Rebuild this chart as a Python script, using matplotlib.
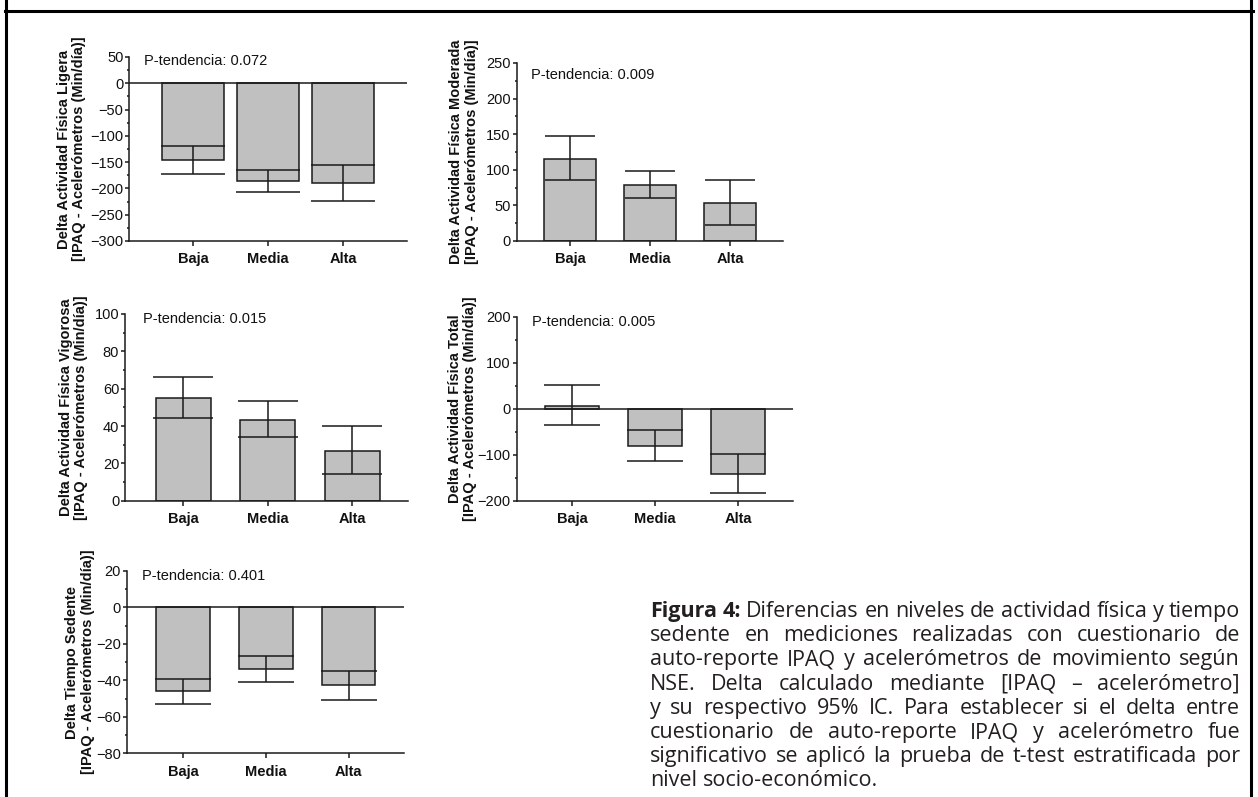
import matplotlib
matplotlib.use('Agg')
import matplotlib.pyplot as plt
from matplotlib.lines import Line2D
from matplotlib.ticker import MultipleLocator

W, H, DPI = 1258, 797, 100

# ---------------- data ----------------
categories = ['Baja', 'Media', 'Alta']

ligera_mean = [-146, -186, -189]
ligera_low = [-173, -207, -223]
ligera_high = [-120, -164, -156]

moderada_mean = [115, 78, 54]
moderada_low = [86, 60, 23]
moderada_high = [147, 98, 86]

vigorosa_mean = [55, 43, 26.5]
vigorosa_low = [44.5, 34, 14.5]
vigorosa_high = [66, 53.5, 40]

total_mean = [6, -80, -141]
total_low = [-36, -114, -184]
total_high = [52, -47, -99]

sedente_mean = [-46, -33.5, -42.5]
sedente_low = [-53, -41, -51]
sedente_high = [-39.5, -26.5, -35]

p_tendencia = ['0.072', '0.009', '0.015', '0.005', '0.401']

ylabels = [
    'Delta Actividad Física Ligera\n[IPAQ - Acelerómetros (Min/día)]',
    'Delta Actividad Física Moderada\n[IPAQ - Acelerómetros (Min/día)]',
    'Delta Actividad Física Vigorosa\n[IPAQ - Acelerómetros (Min/día)]',
    'Delta Actividad Física Total\n[IPAQ - Acelerómetros (Min/día)]',
    'Delta Tiempo Sedente\n[IPAQ - Acelerómetros (Min/día)]',
]

caption_lines = [
    'Figura 4: Diferencias en niveles de actividad física y tiempo',
    'sedente en mediciones realizadas con cuestionario de',
    'auto-reporte IPAQ y acelerómetros de movimiento según',
    'NSE. Delta calculado mediante [IPAQ – acelerómetro]',
    'y su respectivo 95% IC. Para establecer si el delta entre',
    'cuestionario de auto-reporte IPAQ y acelerómetro fue',
    'significativo se aplicó la prueba de t-test estratificada por',
    'nivel socio-económico.',
]
caption_bold_words = 2  # "Figura 4:"

# ---------------- style ----------------
plt.rcParams['font.family'] = ['Liberation Sans', 'DejaVu Sans']
FS = 10.5
BAR_FC = '#c0c0c0'
EDGE = '#1a1a1a'
LW = 1.1

fig = plt.figure(figsize=(W / DPI, H / DPI), dpi=DPI)
fig.patch.set_facecolor('white')

def px_rect(l, t, r, b):
    return [l / W, 1 - b / H, (r - l) / W, (b - t) / H]

panels = [
    dict(data=(ligera_mean, ligera_low, ligera_high), rect=(129.3, 57, 407, 241),
         ylim=(-300, 50), major=50, minor=25, xlim=(-0.853, 2.853), bw=0.83,
         cap=23, zero=True, ptxt=(144, 61), ylab_x=71.5),
    dict(data=(moderada_mean, moderada_low, moderada_high), rect=(516.7, 63, 783, 241),
         ylim=(0, 250), major=50, minor=25, xlim=(-0.67, 2.66), bw=0.65,
         cap=18, zero=False, ptxt=(531, 75), ylab_x=464),
    dict(data=(vigorosa_mean, vigorosa_low, vigorosa_high), rect=(125, 314, 408, 500.7),
         ylim=(0, 100), major=20, minor=10, xlim=(-0.69, 2.66), bw=0.65,
         cap=21.5, zero=False, ptxt=(143, 319), ylab_x=73.5),
    dict(data=(total_mean, total_low, total_high), rect=(516.7, 316.7, 793, 500.7),
         ylim=(-200, 200), major=100, minor=50, xlim=(-0.67, 2.66), bw=0.65,
         cap=20, zero=True, ptxt=(532, 322), ylab_x=462.5),
    dict(data=(sedente_mean, sedente_low, sedente_high), rect=(126.7, 571, 404, 753.3),
         ylim=(-80, 20), major=20, minor=10, xlim=(-0.68, 2.67), bw=0.65,
         cap=20, zero=True, ptxt=(142, 576), ylab_x=80),
]

for i, p in enumerate(panels):
    ax = fig.add_axes(px_rect(*p['rect']))
    mean, low, high = p['data']
    xs = list(range(len(categories)))
    ax.bar(xs, mean, width=p['bw'], color=BAR_FC, edgecolor=EDGE, linewidth=LW, zorder=2)
    yerr = [[m - l for m, l in zip(mean, low)], [h - m for m, h in zip(mean, high)]]
    ax.errorbar(xs, mean, yerr=yerr, fmt='none', ecolor=EDGE, elinewidth=LW,
                capsize=p['cap'], capthick=LW, zorder=3)
    if p['zero']:
        ax.axhline(0, color=EDGE, linewidth=LW, zorder=4)
    ax.set_xlim(*p['xlim'])
    ax.set_ylim(*p['ylim'])
    ax.yaxis.set_major_locator(MultipleLocator(p['major']))
    ax.yaxis.set_minor_locator(MultipleLocator(p['minor']))
    ax.set_xticks(xs)
    ax.set_xticklabels(categories, fontweight='bold', fontsize=FS)
    for s in ('top', 'right'):
        ax.spines[s].set_visible(False)
    for s in ('left', 'bottom'):
        ax.spines[s].set_linewidth(LW)
        ax.spines[s].set_color(EDGE)
    ax.tick_params(axis='y', which='major', length=3.2, width=LW, pad=1,
                   labelsize=FS, color=EDGE, labelcolor='#111111')
    ax.tick_params(axis='y', which='minor', length=1.8, width=LW, color=EDGE)
    ax.tick_params(axis='x', which='major', length=3.6, width=LW, pad=4.5,
                   color=EDGE, labelcolor='#111111')
    ax.patch.set_alpha(0)
    tx, ty = p['ptxt']
    fig.text(tx / W, 1 - ty / H, 'P-tendencia: ' + p_tendencia[i], fontsize=FS,
             ha='left', va='center', color='#111111')
    l, t, r, b = p['rect']
    fig.text(p['ylab_x'] / W, 1 - ((t + b) / 2) / H, ylabels[i], rotation=90,
             ha='center', va='center', multialignment='center', fontsize=FS,
             fontweight='bold', color='#111111', linespacing=1.15)

# ---------------- border lines ----------------
bl = 2.2
fig.add_artist(Line2D([6.5 / W, 6.5 / W], [0, 1], transform=fig.transFigure,
                      color='black', linewidth=bl))
fig.add_artist(Line2D([1251 / W, 1251 / W], [0, 1], transform=fig.transFigure,
                      color='black', linewidth=bl))
fig.add_artist(Line2D([5 / W, 1253 / W], [1 - 10.8 / H, 1 - 10.8 / H],
                      transform=fig.transFigure, color='black', linewidth=bl))

# ---------------- justified caption ----------------
CAP_FONT = ['Open Sans', 'DejaVu Sans']
CAP_L, CAP_R = 650, 1240
BASE0, LSP = 617, 24.2
CAP_COLOR = '#231f20'

renderer = fig.canvas.get_renderer()

def natural_width(line, size):
    t = fig.text(0, 0, line, fontsize=size, family=CAP_FONT)
    w = t.get_window_extent(renderer).width
    t.remove()
    return w

# fit font so that the widest line (with ordinary spaces) just fills the column
CAP_FS = 16.0
while CAP_FS > 8 and max(natural_width(ln, CAP_FS) for ln in caption_lines) > (CAP_R - CAP_L) * 0.995:
    CAP_FS -= 0.1

for li, line in enumerate(caption_lines):
    words = line.split(' ')
    texts = []
    for wi, w in enumerate(words):
        bold = (li == 0 and wi < caption_bold_words)
        t = fig.text(0, 0, w, fontsize=CAP_FS, family=CAP_FONT,
                     fontweight='bold' if bold else 'normal', color=CAP_COLOR,
                     ha='left', va='baseline')
        texts.append(t)
    widths = [t.get_window_extent(renderer).width for t in texts]
    last = (li == len(caption_lines) - 1)
    if last or len(words) == 1:
        gap = natural_width('a a', CAP_FS) - natural_width('aa', CAP_FS)
    else:
        gap = (CAP_R - CAP_L - sum(widths)) / (len(words) - 1)
    x = CAP_L
    y = BASE0 + li * LSP
    for t, wdt in zip(texts, widths):
        t.set_position((x / W, 1 - y / H))
        x += wdt + gap

fig.savefig('out.png', dpi=DPI)
